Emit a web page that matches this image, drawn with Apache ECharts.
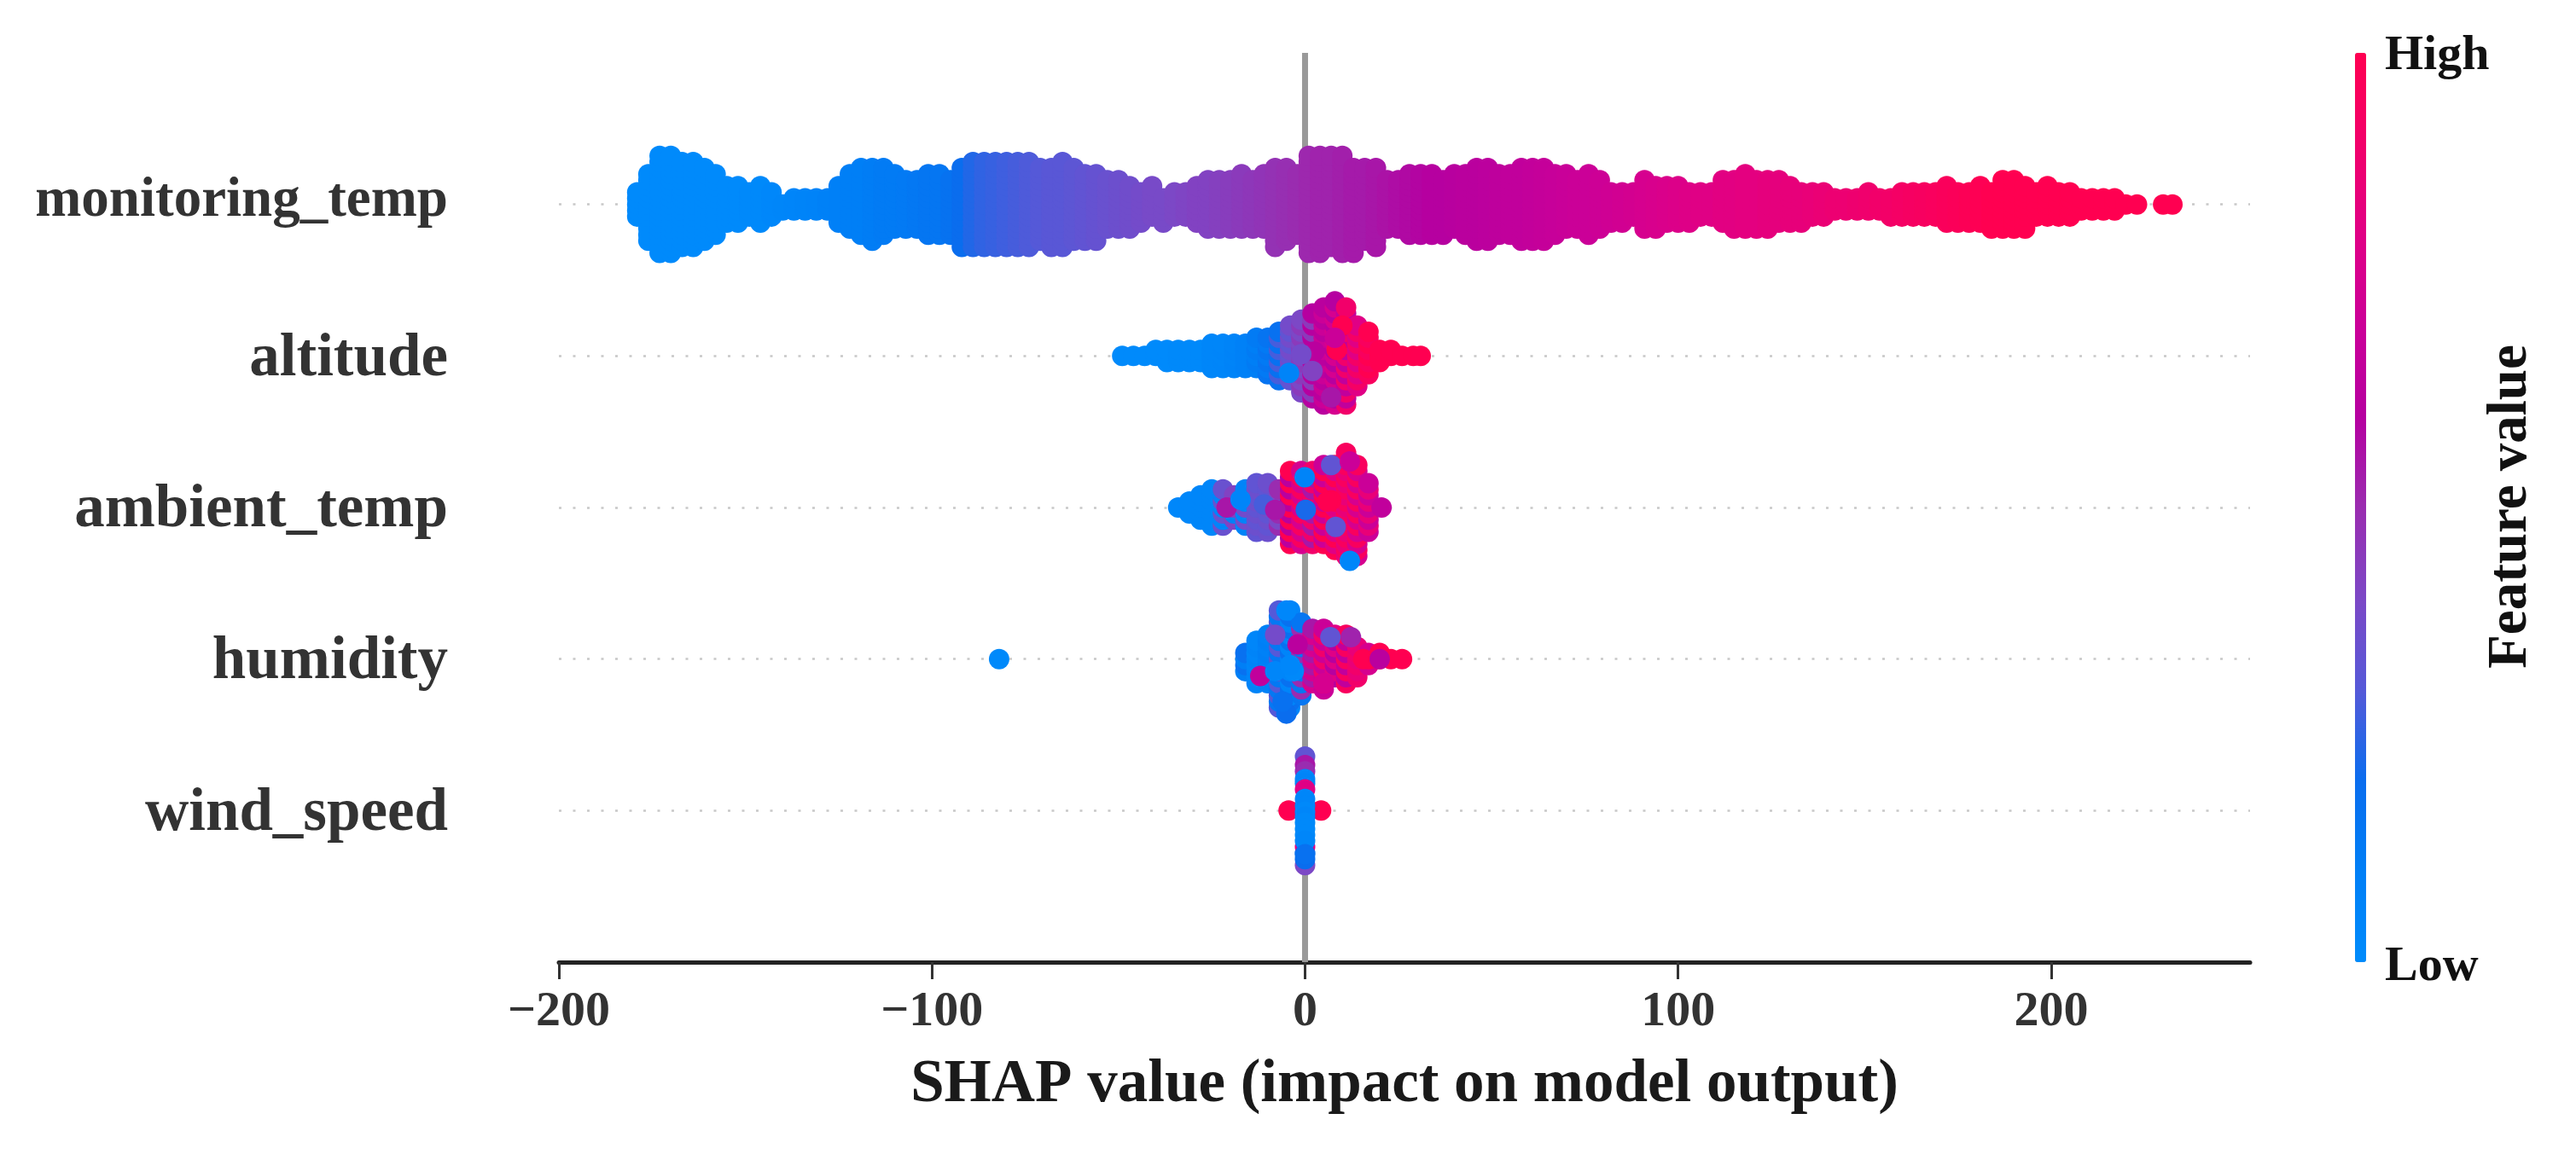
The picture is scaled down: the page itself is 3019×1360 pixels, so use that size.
<!DOCTYPE html>
<html><head><meta charset="utf-8">
<style>html,body{margin:0;padding:0;background:#fff}#c{width:3019px;height:1360px}</style>
<script src="https://cdn.jsdelivr.net/npm/echarts@6/dist/echarts.min.js"></script>
</head><body><div id="c"></div>
<script>
const rowNames = ['', 'wind_speed', 'humidity', 'ambient_temp', 'altitude', 'monitoring_temp', ''];
const xTicks = [-200, -100, 0, 100, 200];
const colorStops = ['#008bfb','#007ff6','#0a6dee','#5559d8','#7c48c6','#9a2cb0','#b600a0','#cb0098','#e00085','#f2006a','#ff0051'];

// monitoring_temp: SHAP value per column, stacked dot layers above/below the row, feature value
const mtX = [
-179,-176,-173,-170,-167,-164,-161,-158,-155,-152,
-149,-146,-143,-140,-137,-134,-131,-128,-125,-122,
-119,-116,-113,-110,-107,-104,-101,-98,-95,-92,
-89,-86,-83,-80,-77,-74,-71,-68,-65,-62,
-59,-56,-53,-50,-47,-44,-41,-38,-35,-32,
-29,-26,-23,-20,-17,-14,-11,-8,-5,-2,
1,4,7,10,13,16,19,22,25,28,
31,34,37,40,43,46,49,52,55,58,
61,64,67,70,73,76,79,82,85,88,
91,94,97,100,103,106,109,112,115,118,
121,124,127,130,133,136,139,142,145,148,
151,154,157,160,163,166,169,172,175,178,
181,184,187,190,193,196,199,202,205,208,
211,214,217,220,223,230,232.5];
const mtUp = [
2,5,8,8,7,7,6,5,3,3,
2,3,2,0,1,1,1,1,3,5,
6,6,6,5,4,4,5,5,4,6,
7,7,7,7,7,7,6,6,7,6,
5,5,4,4,3,2,3,1,2,2,
3,4,4,4,5,4,5,6,6,5,
8,8,8,8,6,6,6,4,4,5,
5,5,4,5,5,6,6,5,5,6,
6,6,5,5,4,5,4,2,2,2,
4,3,3,3,2,2,2,4,4,5,
4,4,4,3,2,2,2,1,1,1,
2,1,1,2,2,2,2,3,2,2,
3,2,4,4,3,2,3,2,2,1,
1,1,1,0,0,0,0];
const mtDown = [
2,6,8,8,7,7,6,5,3,3,
2,3,2,1,1,1,1,1,3,4,
5,6,5,4,4,4,5,5,5,7,
7,7,7,7,7,7,6,7,7,6,
6,6,4,4,4,3,2,3,2,2,
3,4,4,4,4,4,4,7,6,5,
8,8,7,8,8,6,7,4,4,5,
5,5,5,4,5,6,6,5,5,6,
6,6,5,4,4,5,4,3,3,2,
4,4,3,3,3,2,2,3,4,4,
4,4,3,3,3,2,2,1,1,1,
1,1,2,2,2,2,2,3,3,3,
3,4,4,4,4,2,2,2,2,1,
1,1,1,0,0,0,0];
const mtFeat = [
.01,.01,.01,.01,.01,.01,.01,.01,.01,.01,
.02,.02,.03,.04,.05,.06,.07,.08,.09,.1,
.1,.11,.12,.12,.13,.14,.15,.15,.17,.2,
.23,.25,.26,.27,.28,.29,.3,.31,.31,.32,
.33,.34,.35,.36,.37,.38,.39,.39,.4,.41,
.42,.42,.43,.44,.45,.46,.47,.48,.49,.5,
.51,.52,.52,.53,.54,.54,.55,.56,.57,.58,
.59,.6,.6,.61,.62,.62,.63,.64,.65,.65,
.66,.67,.68,.69,.7,.7,.71,.72,.73,.74,
.75,.76,.77,.78,.79,.8,.8,.81,.81,.82,
.82,.83,.83,.84,.84,.85,.86,.87,.87,.88,
.89,.9,.91,.92,.93,.94,.95,.96,.97,.98,
.99,1,1,1,1,1,1,1,1,1,
1,1,1,1,1,1,1];

// altitude
const altX = [-49,-46,-43,-40,-37,-34,-31,-28,-25,-22,-19,-16,-13,-10,-7,-4,-1,2,5,8,11,14,17,20,23,26,29,31];
const altUp = [0,0,0,1,1,1,1,1,2,2,2,2,3,3,4,5,6,7,8,9,8,5,4,1,1,0,0,0];
const altDown = [0,0,0,0,1,1,1,1,2,2,2,2,2,3,4,4,6,7,8,8,8,5,3,1,0,0,0,0];
const altFeatA = [.01,.01,.01,.01,.01,.02,.02,.02,.04,.04,.06,.08,.1,.13,.18,.33,.4,.45,.62,.75,.9,.92,1,1,1,1,1,1];
const altFeatB = [.01,.01,.01,.01,.01,.02,.02,.02,.04,.05,.07,.08,.12,.16,.28,.38,.45,.6,.7,.6,.65,.8,.95,1,1,1,1,1];
const altExtraX = [-4.3,10,8.5,8,2.5,7,2,-1];
const altExtraLayer = [-2.8,5,1,3,.7,-6.8,-2.5,.3];
const altExtraFeat = [.06,1,1,.7,.62,.55,.42,.38];

// ambient_temp
const ambX = [-34,-31,-28,-25,-22,-19,-16,-13,-10,-7,-4,-1,2,5,8,11,14,17,20.5];
const ambUp = [0,1,2,3,3,2,3,4,4,3,6,6,6,7,7,9,7,4,0];
const ambDown = [0,1,2,3,3,2,3,4,4,3,6,6,6,6,7,8,8,4,0];
const ambFeatA = [.03,.03,.04,.04,.05,.42,.38,.33,.36,.4,1,.75,.9,1,.8,.85,.75,.7,.65];
const ambFeatB = [.03,.03,.04,.04,.35,.08,.06,.36,.33,.5,.62,.95,.55,.7,1,.95,.95,.85,.65];
const ambExtraX = [12,-21,-17.3,-11,.2,8.2,7,-.1,12,7,-8,6];
const ambExtraLayer = [-8.8,0,1.3,.5,-.4,-3.2,7,5,7.6,1.2,-.4,1];
const ambExtraFeat = [.04,.55,.05,.28,.22,.33,.33,.06,.7,1,.55,1];

// humidity
const humX = [-16,-13,-10,-7,-4,-1,2,5,8,11,14,17,20,23,26];
const humUp = [1,3,4,8,8,6,5,5,4,4,2,1,1,0,0];
const humDown = [2,4,4,8,8,6,4,5,3,4,3,1,0,0,0];
const humFeatA = [.1,.06,.08,.3,.05,.15,.75,.9,.8,.95,.85,1,1,1,1];
const humFeatB = [.18,.04,.1,.14,.18,.5,.55,.7,.6,.65,.9,.75,1,1,1];
const humExtraX = [-82,-12,-5,-2,6.8,12.3,-3,15.6,20,-8,5,-5,-6,-8,-4];
const humExtraLayer = [0,-2.8,8,2.4,3.6,3.6,-2,0,0,4,-4,-9,-7,-2,-1];
const humExtraFeat = [.02,.65,.03,.62,.33,.52,.02,1,.62,.38,.75,.2,.18,.04,.03];

// wind_speed: every dot listed
const windX = [-4.4,4.3,0,0,0,0,0,0,0,0,0,0,0,0,0,0,0,0,0,0,0];
const windLayer = [0,0,-9,-8,-7,-6,8.9,7.5,6.5,5.2,4.5,3.5,1.9,.8,-.2,-1,-2,-3,-4,-5,-7.2];
const windFeat = [1,1,.4,.2,.18,.8,.33,.55,.5,.04,.06,.8,.04,.04,.02,.04,.02,.02,.02,.04,.18];

const LAYER = 0.04;
function stack(row, X, Up, Down, A, B) {
  const out = [];
  X.forEach((x, i) => {
    for (let k = -Down[i]; k <= Up[i]; k++) out.push([x, row + k * LAYER, Math.abs(k) % 2 ? B[i] : A[i]]);
  });
  return out;
}
function extras(row, X, L, F) { return X.map((x, i) => [x, row + L[i] * LAYER, F[i]]); }

const font = '"Liberation Serif"';
const dots = (data) => ({ type: 'scatter', data, symbol: 'circle', symbolSize: 24, z: 3, silent: true, progressive: 0, itemStyle: { opacity: 1 }, encode: { x: 0, y: 1 } });
const chart = echarts.init(document.getElementById('c'), null, { renderer: 'canvas' });
chart.setOption({
  animation: false,
  backgroundColor: '#fff',
  grid: { left: 655, top: 62, width: 1982, height: 1066, containLabel: false },
  xAxis: {
    type: 'value', min: -200, max: 253.3, interval: 100,
    name: 'SHAP value (impact on model output)', nameLocation: 'middle', nameGap: 109,
    nameTextStyle: { fontFamily: font, fontWeight: 'bold', fontSize: 71, color: '#1a1a1a' },
    axisLine: { show: true, onZero: false, lineStyle: { color: '#222', width: 5 } },
    axisTick: { show: true, length: 20, lineStyle: { color: '#333', width: 3 }, customValues: xTicks },
    axisLabel: { margin: 30, fontFamily: font, fontWeight: 'bold', fontSize: 58, color: '#333', customValues: xTicks,
      formatter: v => v < 0 ? '\u2212' + Math.abs(v) : String(v) },
    splitLine: { show: false }
  },
  yAxis: {
    type: 'value', min: 0, max: 6, interval: 1,
    axisLine: { show: false }, axisTick: { show: false },
    axisLabel: { margin: 130, padding: [8, 0, 0, 0], fontFamily: font, fontWeight: 'bold', color: '#333',
      formatter: v => rowNames[v] ? (v === 5 ? '{m|' + rowNames[v] + '}' : '{r|' + rowNames[v] + '}') : '',
      rich: {
        m: { fontFamily: font, fontWeight: 'bold', fontSize: 65, color: '#333', padding: [0, 0, 14, 0] },
        r: { fontFamily: font, fontWeight: 'bold', fontSize: 71, color: '#333' }
      } },
    splitLine: { show: true, showMinLine: false, showMaxLine: false, lineStyle: { color: '#c8c8c8', width: 2.5, type: [3, 13.5] } }
  },
  visualMap: {
    type: 'continuous', min: 0, max: 1, dimension: 2, seriesIndex: [1, 2, 3, 4, 5],
    left: 2760, top: 62, itemWidth: 13, itemHeight: 1066, padding: 0, text: null, calculable: false, hoverLink: false,
    inRange: { color: colorStops }
  },
  series: [
    { type: 'line', data: [[0, 0], [0, 6]], symbol: 'none', silent: true, z: 1, lineStyle: { color: '#999', width: 7 } },
    dots(stack(5, mtX, mtUp, mtDown, mtFeat, mtFeat)),
    dots(stack(4, altX, altUp, altDown, altFeatA, altFeatB).concat(extras(4, altExtraX, altExtraLayer, altExtraFeat))),
    dots(stack(3, ambX, ambUp, ambDown, ambFeatA, ambFeatB).concat(extras(3, ambExtraX, ambExtraLayer, ambExtraFeat))),
    dots(stack(2, humX, humUp, humDown, humFeatA, humFeatB).concat(extras(2, humExtraX, humExtraLayer, humExtraFeat))),
    dots(extras(1, windX, windLayer, windFeat))
  ],
  graphic: [
    { type: 'text', left: 2795, top: 37, style: { text: 'High', font: 'bold 58px ' + font, fill: '#111' } },
    { type: 'text', left: 2795, top: 1105, style: { text: 'Low', font: 'bold 58px ' + font, fill: '#111' } },
    { type: 'text', x: 2943, y: 594, rotation: Math.PI / 2,
      style: { text: 'Feature value', font: 'bold 65px ' + font, fill: '#111', align: 'center', verticalAlign: 'middle' } }
  ]
});
</script></body></html>
